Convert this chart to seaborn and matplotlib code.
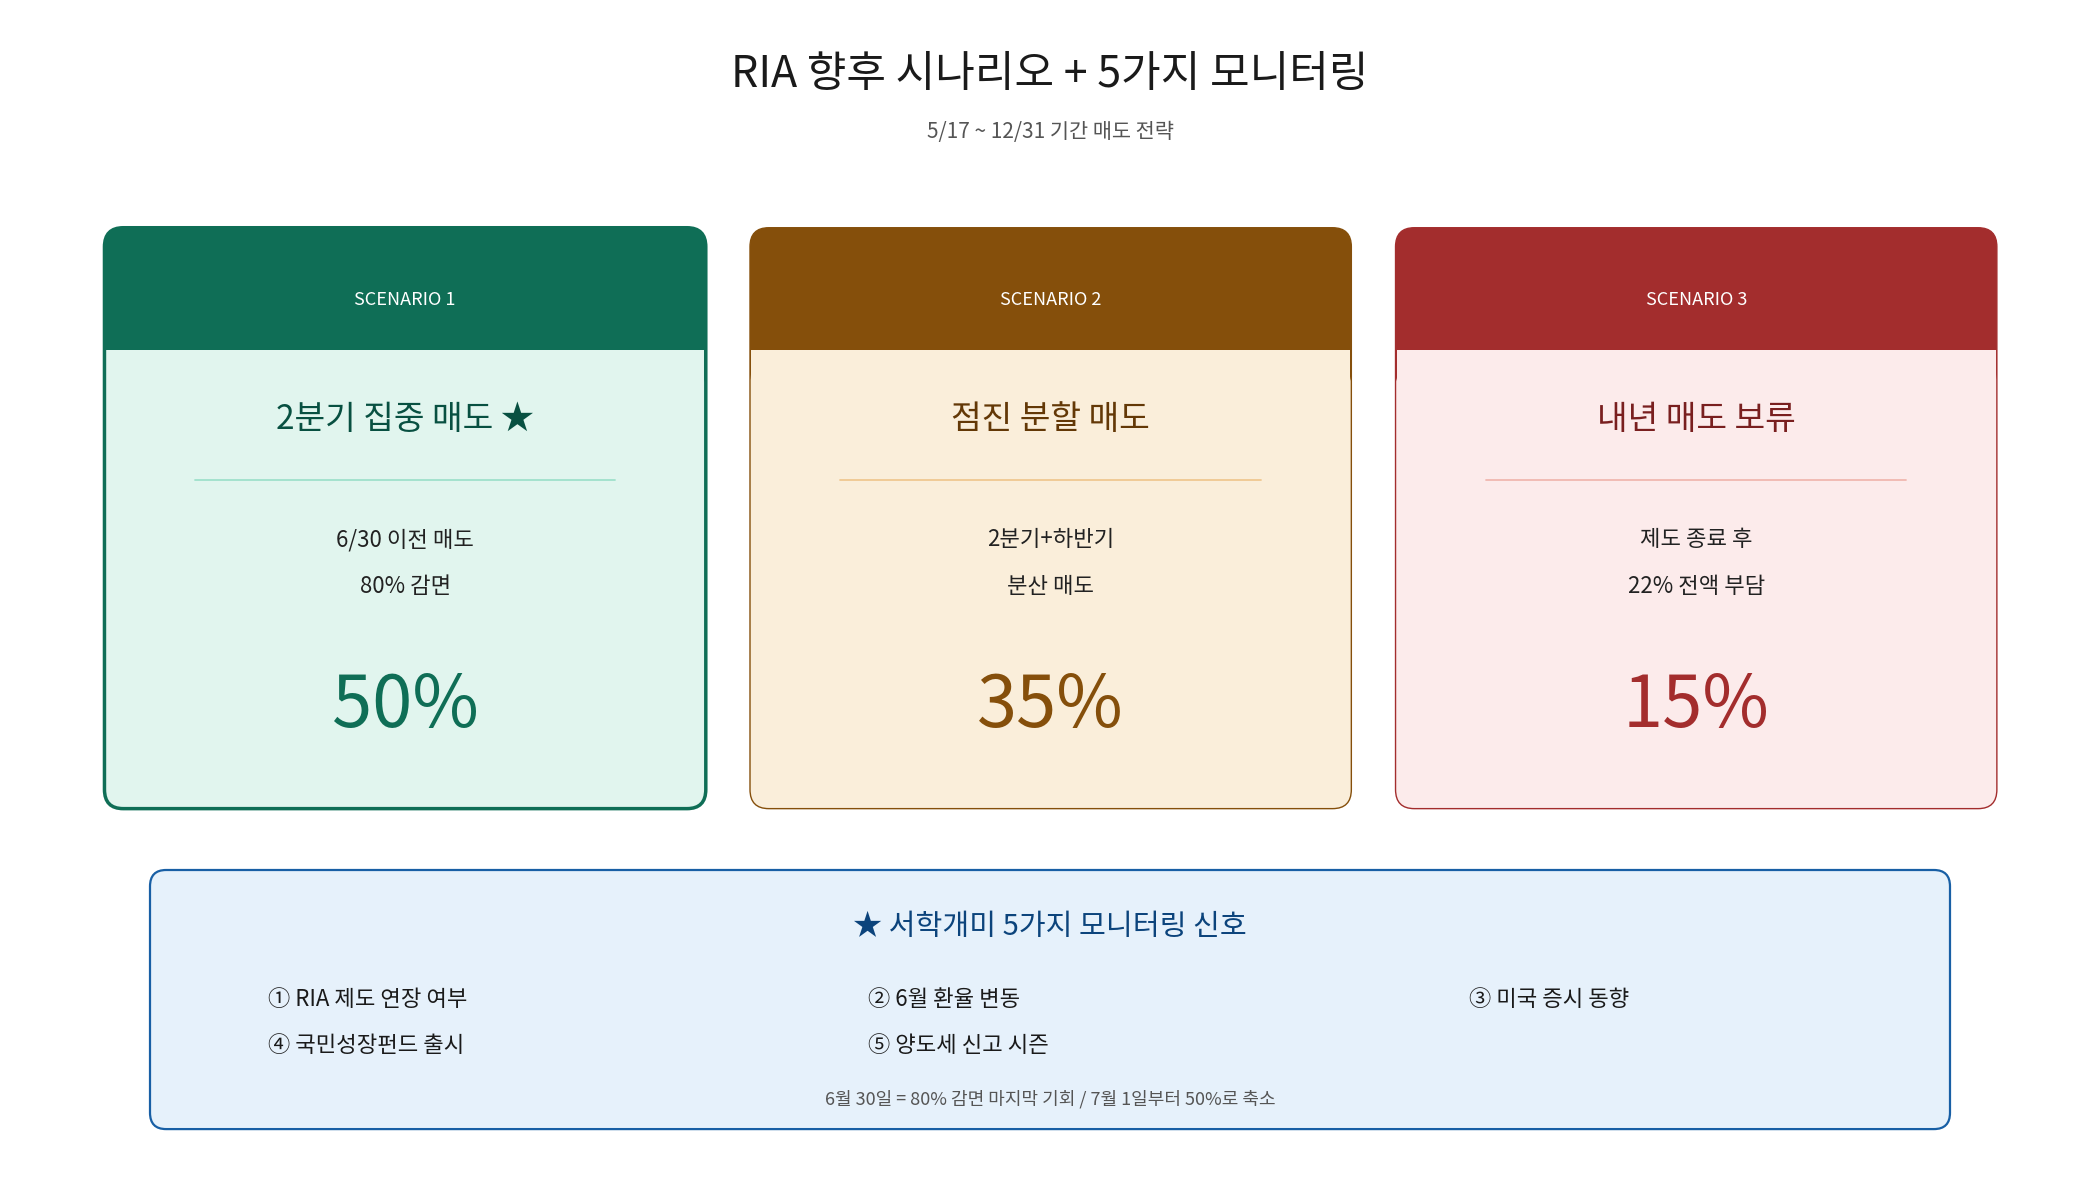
import matplotlib
matplotlib.use("Agg")
import matplotlib.pyplot as plt
import seaborn as sns
from matplotlib.patches import FancyBboxPatch, Rectangle

sns.set_theme(style="white")
plt.rcParams['font.family'] = ['Noto Sans CJK KR', 'DejaVu Sans']

title = "RIA 향후 시나리오 + 5가지 모니터링"
subtitle = "5/17 ~ 12/31 기간 매도 전략"
scenario_labels = ["SCENARIO 1", "SCENARIO 2", "SCENARIO 3"]
scenario_titles = ["2분기 집중 매도 ★", "점진 분할 매도", "내년 매도 보류"]
scenario_desc1 = ["6/30 이전 매도", "2분기+하반기", "제도 종료 후"]
scenario_desc2 = ["80% 감면", "분산 매도", "22% 전액 부담"]
probabilities = [50, 35, 15]
monitor_title = "★ 서학개미 5가지 모니터링 신호"
monitor_items = ["① RIA 제도 연장 여부", "② 6월 환율 변동", "③ 미국 증시 동향",
                 "④ 국민성장펀드 출시", "⑤ 양도세 신고 시즌"]
footnote = "6월 30일 = 80% 감면 마지막 기회 / 7월 1일부터 50%로 축소"

head_c = ["#0f6e56", "#854f0b", "#a32d2d"]
body_c = ["#e1f5ee", "#faeeda", "#fcebeb"]
title_c = ["#085041", "#633806", "#791f1f"]
pct_c = ["#0f6e56", "#854f0b", "#a32d2d"]
line_c = ["#9fe1cb", "#f0c890", "#f0b8b0"]
lw = [2.5, 1.0, 1.0]

fig = plt.figure(figsize=(21, 12), dpi=100)
ax = fig.add_axes([0, 0, 1, 1])
ax.set_xlim(0, 1568); ax.set_ylim(880, 0); ax.axis("off")

ax.text(784, 55, title, ha="center", va="center", fontsize=31, color="#1a1a1a", fontweight="medium")
ax.text(784, 97, subtitle, ha="center", va="center", fontsize=15, color="#555555")

xs = [78, 560, 1042]
w, top, hb, bot = 449, 167, 257, 593
r = 14
for i, x in enumerate(xs):
    ax.add_patch(FancyBboxPatch((x, top), w, bot - top, boxstyle=f"round,pad=0,rounding_size={r}",
                                fc=body_c[i], ec="none", zorder=1))
    ax.add_patch(FancyBboxPatch((x, top), w, 120, boxstyle=f"round,pad=0,rounding_size={r}",
                                fc=head_c[i], ec="none", zorder=2))
    ax.add_patch(Rectangle((x + 1, hb), w - 2, 40, fc=body_c[i], ec="none", zorder=3))
    ax.add_patch(FancyBboxPatch((x, top), w, bot - top, boxstyle=f"round,pad=0,rounding_size={r}",
                                fc="none", ec=head_c[i], lw=lw[i], zorder=4))
    cx = x + w / 2
    ax.text(cx, 220, scenario_labels[i], ha="center", va="center", fontsize=13, color="white",
            fontweight="medium", zorder=5, fontfamily=['Noto Sans CJK KR'], )
    ax.text(cx, 308, scenario_titles[i], ha="center", va="center", fontsize=24, color=title_c[i],
            fontweight="medium", zorder=5, family=['Noto Sans CJK KR', 'DejaVu Sans'])
    ax.plot([cx - 157, cx + 157], [352, 352], color=line_c[i], lw=1.3, zorder=5)
    ax.text(cx, 396, scenario_desc1[i], ha="center", va="center", fontsize=16, color="#222222", zorder=5)
    ax.text(cx, 430, scenario_desc2[i], ha="center", va="center", fontsize=16, color="#222222", zorder=5)
    ax.text(cx, 518, f"{probabilities[i]}%", ha="center", va="center", fontsize=52, color=pct_c[i],
            fontweight="medium", zorder=5)

ax.add_patch(FancyBboxPatch((112, 638), 1344, 190, boxstyle="round,pad=0,rounding_size=12",
                            fc="#e6f1fb", ec="#185fa5", lw=1.6, zorder=1))
ax.text(784, 680, monitor_title, ha="center", va="center", fontsize=21, color="#0c447c",
        fontweight="medium", family=['Noto Sans CJK KR', 'DejaVu Sans'])
cols = [200, 648, 1097]
rows = [733, 767]
for k, item in enumerate(monitor_items):
    ax.text(cols[k % 3], rows[k // 3], item, ha="left", va="center", fontsize=16, color="#1a1a1a")
ax.text(784, 806, footnote, ha="center", va="center", fontsize=13, color="#555555")

fig.savefig("out.png", dpi=100, facecolor="white")
